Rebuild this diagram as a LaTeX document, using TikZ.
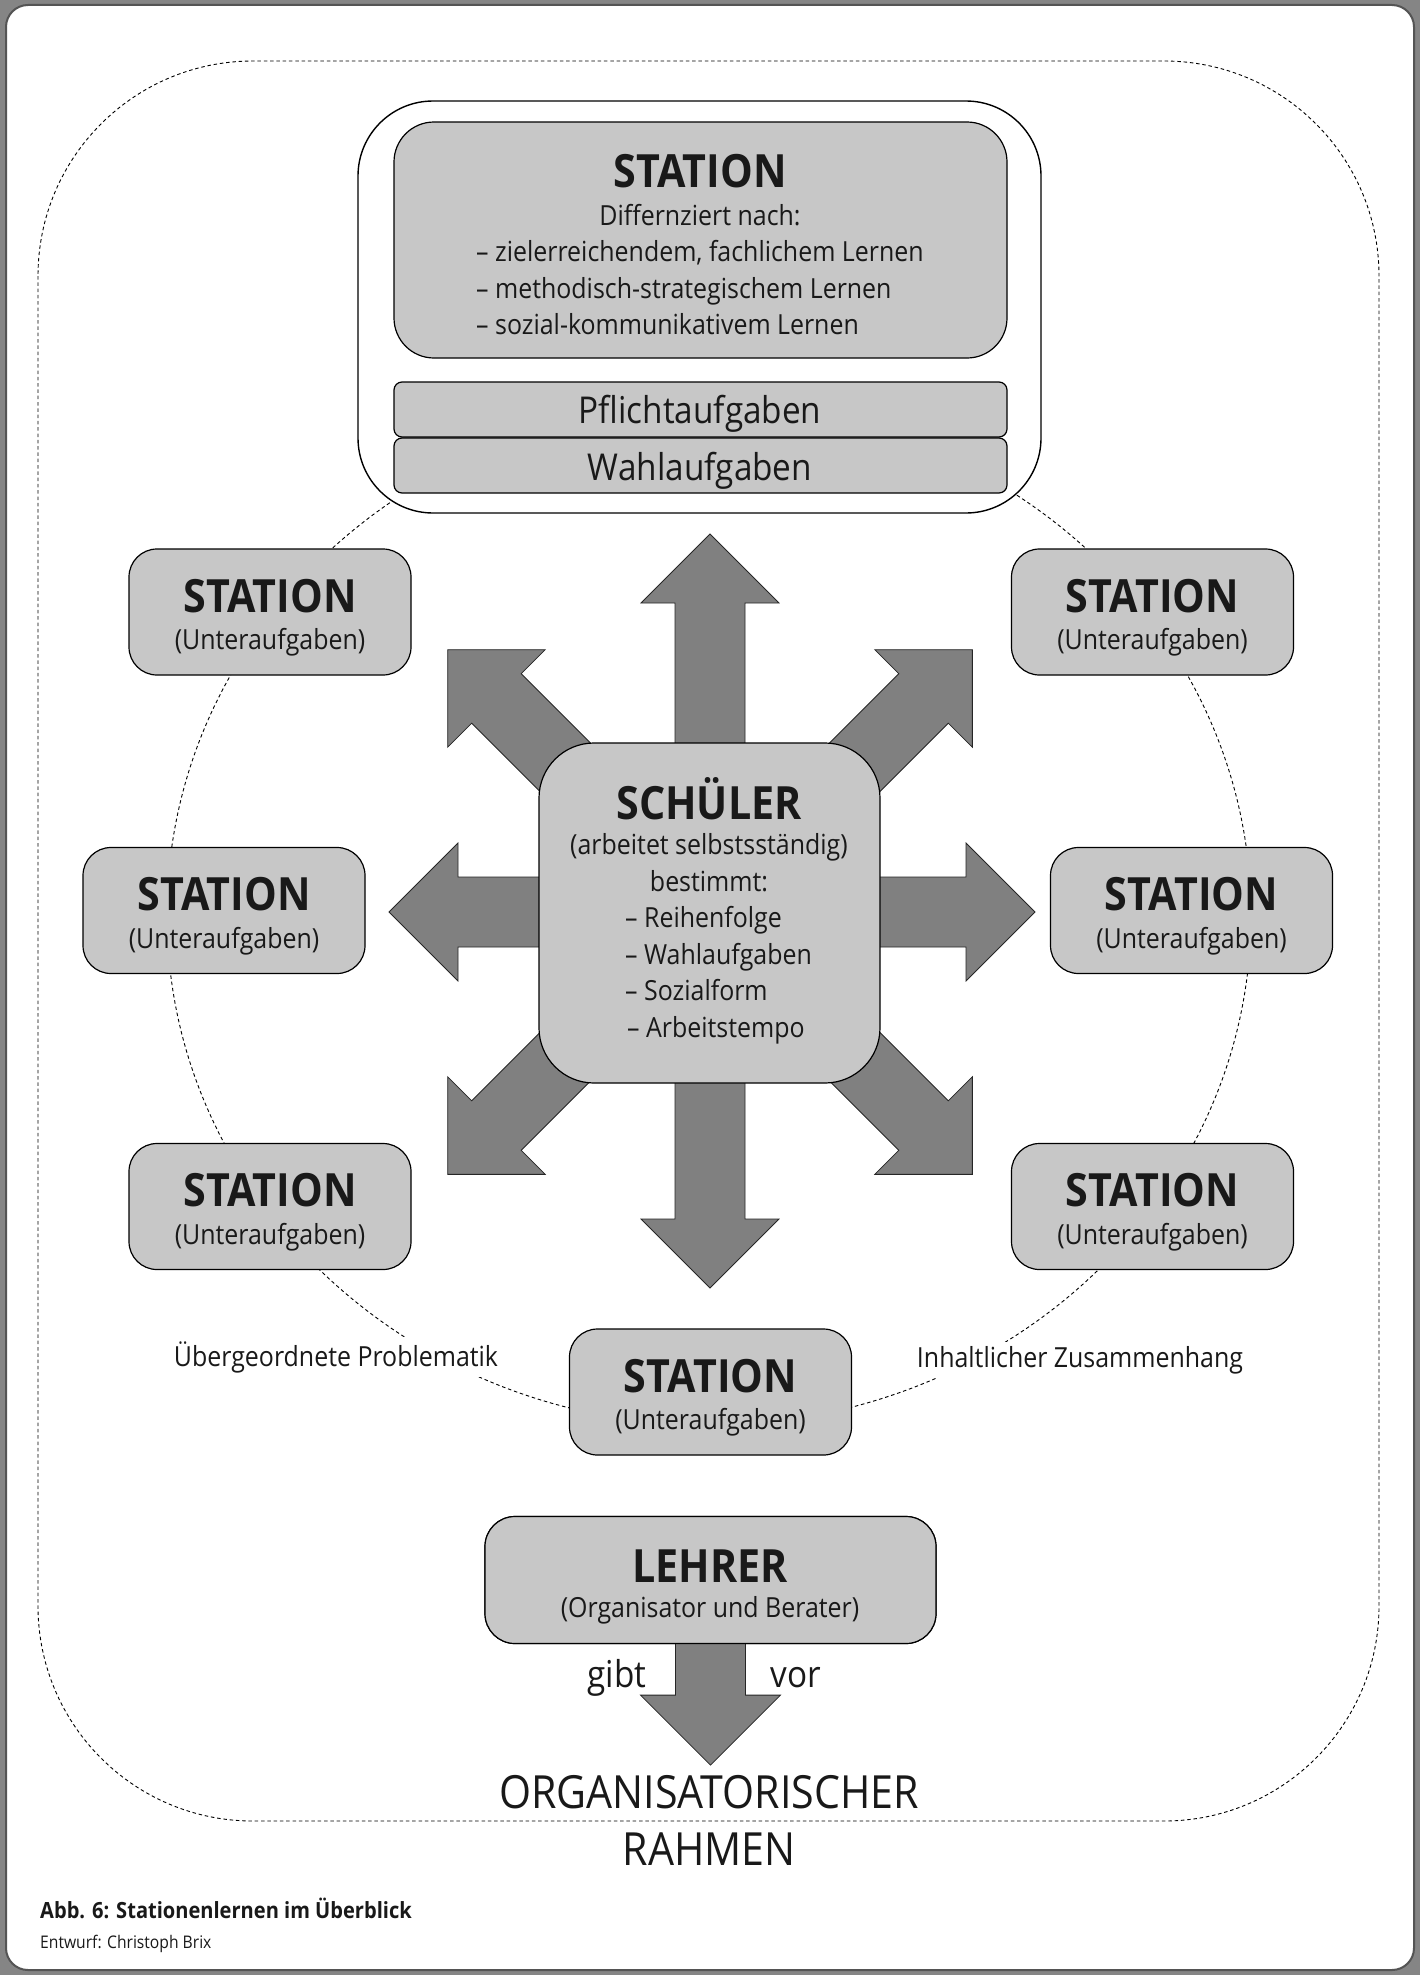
\documentclass[tikz,border=0pt]{standalone}
\usepackage{fontspec}
\setmainfont{Open Sans}[FakeStretch=0.9]
\definecolor{boxgray}{gray}{0.78}
\definecolor{arrowgray}{gray}{0.5}
\definecolor{framegray}{gray}{0.52}
\definecolor{framedark}{gray}{0.33}
\definecolor{ink}{gray}{0.1}
\tikzset{
  box/.style={draw=black, line width=1.2pt, fill=boxgray, rounded corners=28pt,
    minimum width=282pt, minimum height=126pt, inner sep=0pt},
  dashline/.style={draw=black, line width=0.9pt, dash pattern=on 3.5pt off 2.8pt},
  arrowst/.style={fill=arrowgray, draw=black!85, line width=0.8pt, line join=miter},
  ttl/.style={inner sep=0pt, text=ink, font=\fontsize{45.8}{50}\selectfont\bfseries},
  sub/.style={inner sep=0pt, text=ink, font=\fontsize{27.7}{36}\selectfont},
  pfl/.style={inner sep=0pt, text=ink, font=\fontsize{37}{42}\selectfont},
  rahmen/.style={inner sep=0pt, text=ink, font=\fontsize{45.7}{50}\selectfont},
  lbl/.style={inner sep=4pt, fill=white, text=ink, font=\fontsize{27.7}{36}\selectfont},
}
\newcommand\stationbox[3]{%
  \node[box] (#1) at (#2,#3) {};
  \node[ttl, anchor=base] (#1-t) at (#2,#3) {STATION};
  \node[sub, anchor=base] (#1-s) at (#2,#3+37.5) {(Unteraufgaben)};
}
\newcommand\spoke[2]{%
  \begin{scope}[shift={(710,912)}, rotate=#1]
    \draw[arrowst] (0,35) -- (#2-69,35) -- (#2-69,69) -- (#2,0) -- (#2-69,-69) -- (#2-69,-35) -- (0,-35) -- cycle;
  \end{scope}}
\begin{document}
\begin{tikzpicture}[x=1pt,y=-1pt]
\path[use as bounding box] (0,0) rectangle (1420,1975);
% page frame
\fill[framegray] (0,0) rectangle (1420,1975);
\draw[fill=white, draw=framedark, line width=2pt, rounded corners=22pt] (6,5) rectangle (1414,1970);
% organisational frame
\draw[dashline, rounded corners=215pt] (38,61) rectangle (1379,1821);
% circle of stations
\draw[dashline] (709,915) ellipse [x radius=542pt, y radius=510pt];
\node[lbl, anchor=base] (lblL) at (336,1366) {Übergeordnete Problematik};
\node[lbl, anchor=base] (lblR) at (1080,1367) {Inhaltlicher Zusammenhang};
% spokes
\spoke{0}{325}
\spoke{45}{371}
\spoke{90}{378}
\spoke{135}{371}
\spoke{180}{321}
\spoke{225}{371}
\spoke{270}{376}
\spoke{315}{371}
% pupil
\node[box, rounded corners=55pt, minimum width=341pt, minimum height=340pt] (schueler) at (709.5,913) {};
\node[ttl, anchor=base] (sch-t) at (709,819.5) {SCHÜLER};
\node[sub, anchor=base] (sch-a) at (709,854) {(arbeitet selbstsständig)};
\node[sub, anchor=base] (sch-b) at (709,891) {bestimmt:};
\node[sub, anchor=base west] (sch-c) at (625,927.5) {– Reihenfolge};
\node[sub, anchor=base west] (sch-d) at (625,964) {– Wahlaufgaben};
\node[sub, anchor=base west] (sch-e) at (625,1000.5) {– Sozialform};
\node[sub, anchor=base west] (sch-f) at (627,1037) {– Arbeitstempo};
% top station
\node[draw=black, line width=1.4pt, fill=white, rounded corners=75pt, minimum width=683pt, minimum height=412pt] (cont) at (699.5,307) {};
\node[box, rounded corners=40pt, minimum width=613pt, minimum height=236pt] (topst) at (700.5,240) {};
\node[box, rounded corners=8pt, minimum width=613pt, minimum height=55pt] (pflicht) at (700.5,409.5) {};
\node[box, rounded corners=8pt, minimum width=613pt, minimum height=55pt] (wahl) at (700.5,465.5) {};
\node[ttl, anchor=base] (topst-t) at (700,187) {STATION};
\node[sub, anchor=base] (topst-a) at (700,225) {Differnziert nach:};
\node[sub, anchor=base west] (topst-b) at (476,261.5) {– zielerreichendem, fachlichem Lernen};
\node[sub, anchor=base west] (topst-c) at (476,298) {– methodisch-strategischem Lernen};
\node[sub, anchor=base west] (topst-d) at (476,334.5) {– sozial-kommunikativem Lernen};
\node[pfl, anchor=base] (pflicht-t) at (700,423) {Pflichtaufgaben};
\node[pfl, anchor=base] (wahl-t) at (700,480) {Wahlaufgaben};
% stations
\stationbox{stTL}{270}{612}
\stationbox{stTR}{1152.5}{612}
\stationbox{stML}{224}{910.5}
\stationbox{stMR}{1191.5}{910.5}
\stationbox{stBL}{270}{1206.5}
\stationbox{stBR}{1152.5}{1206.5}
\stationbox{stBC}{710.5}{1392}
% teacher
\node[box, rounded corners=30pt, minimum width=451pt, minimum height=127pt] (lehrer) at (710.5,1580) {};
\draw[arrowst] ([xshift=-35pt, yshift=1pt]lehrer.south) -- ++(0,52) -- ++(-35,0) -- ++(70,70) -- ++(70,-70) -- ++(-35,0) -- ++(0,-52);
\node[box, rounded corners=30pt, minimum width=451pt, minimum height=127pt] (lehrer2) at (710.5,1580) {};
\node[ttl, anchor=base] (lehrer-t) at (710,1582) {LEHRER};
\node[sub, anchor=base] (lehrer-s) at (710,1617) {(Organisator und Berater)};
\node[pfl, anchor=base] (gibt) at (617,1687) {gibt};
\node[pfl, anchor=base] (vor) at (796,1687) {vor};
\node[rahmen, anchor=base] (org) at (709,1808) {ORGANISATORISCHER};
\node[rahmen, anchor=base] (rahmen) at (709,1865) {RAHMEN};
% caption
\node[inner sep=0pt, anchor=base west, text=ink, font=\fontsize{22.3}{26}\selectfont\bfseries] (cap) at (40,1918) {Abb. 6: Stationenlernen im Überblick};
\node[inner sep=0pt, anchor=base west, text=ink, font=\fontsize{17.4}{20}\selectfont] (credit) at (40,1948) {Entwurf: Christoph Brix};
\end{tikzpicture}
\end{document}
